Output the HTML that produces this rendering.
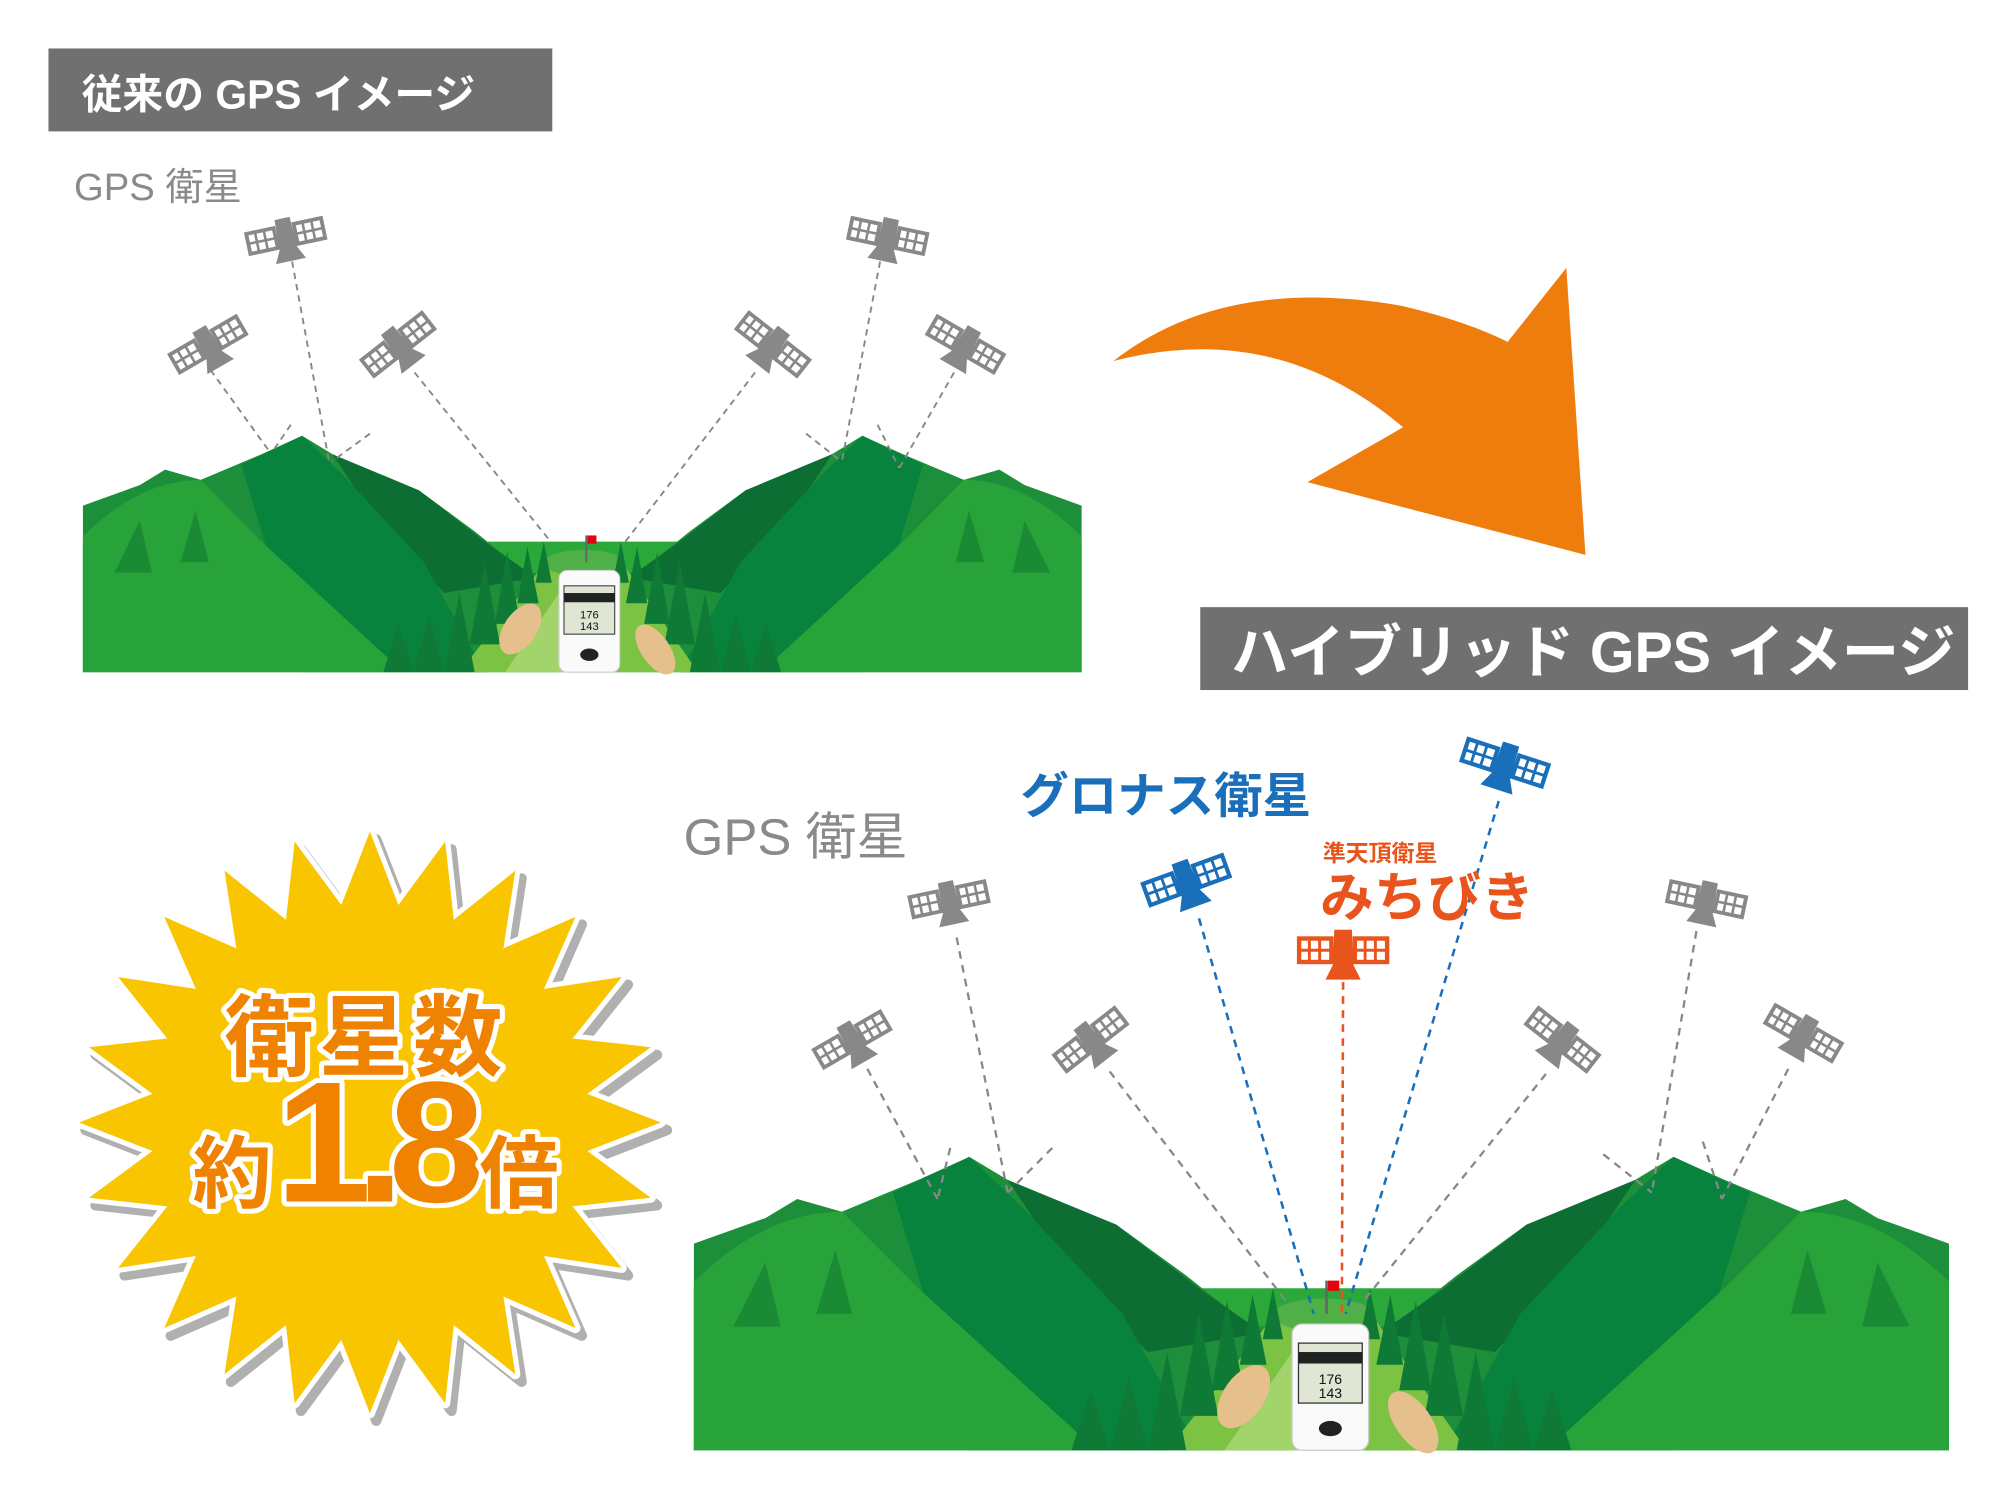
<!DOCTYPE html>
<html><head><meta charset="utf-8"><style>
html,body{margin:0;padding:0;background:#fff;}
svg{display:block;}
text{font-family:"Liberation Sans","Noto Sans CJK JP",sans-serif;}
</style></head><body>
<svg width="2000" height="1500" viewBox="0 0 1568 1176" preserveAspectRatio="none" xmlns="http://www.w3.org/2000/svg">
<defs>
<g id="sat">
  <rect x="-30" y="-8" width="22" height="16" fill="#fff" stroke="currentColor" stroke-width="3"/>
  <line x1="-23" y1="-8" x2="-23" y2="8" stroke="currentColor" stroke-width="2"/>
  <line x1="-16" y1="-8" x2="-16" y2="8" stroke="currentColor" stroke-width="2"/>
  <line x1="-30" y1="0" x2="-8" y2="0" stroke="currentColor" stroke-width="2"/>
  <rect x="8" y="-8" width="22" height="16" fill="#fff" stroke="currentColor" stroke-width="3"/>
  <line x1="15" y1="-8" x2="15" y2="8" stroke="currentColor" stroke-width="2"/>
  <line x1="22" y1="-8" x2="22" y2="8" stroke="currentColor" stroke-width="2"/>
  <line x1="8" y1="0" x2="30" y2="0" stroke="currentColor" stroke-width="2"/>
  <line x1="-8" y1="0" x2="8" y2="0" stroke="currentColor" stroke-width="3"/>
  <path d="M-6,-14 L6,-14 L7,10 L12,20 L-12,20 L-7,10 Z" fill="currentColor"/>
</g>
<g id="land">
  <rect x="544" y="1010" width="984" height="127" fill="#2aa83a"/>
  <path d="M544,975 L600,955 L625,940 L660,950 L720,925 L760,907 L790,925 L830,945 L875,960 L930,1000 L980,1040 L1010,1040 L1010,1137 L544,1137 Z" fill="#1d8f3a"/>
  <path d="M790,925 L875,960 L940,1010 L990,1045 L900,1060 L840,1000 Z" fill="#0d6e33"/>
  <path d="M700,935 L760,907 L800,945 L880,1030 L940,1137 L760,1137 L720,1000 Z" fill="#07833e"/>
  <path d="M544,1005 Q600,950 660,950 L720,1010 L830,1110 L860,1137 L544,1137 Z" fill="#27a33a"/>
  <path d="M575,1040 L600,990 L612,1040 Z M640,1030 L655,980 L668,1030 Z" fill="#1a8a35"/>
  <path d="M1528,975 L1472,955 L1447,940 L1412,950 L1352,925 L1312,907 L1282,925 L1242,945 L1197,960 L1142,1000 L1092,1040 L1062,1040 L1062,1137 L1528,1137 Z" fill="#1d8f3a"/>
  <path d="M1282,925 L1197,960 L1132,1010 L1082,1045 L1172,1060 L1232,1000 Z" fill="#0d6e33"/>
  <path d="M1372,935 L1312,907 L1272,945 L1192,1030 L1132,1137 L1312,1137 L1352,1000 Z" fill="#07833e"/>
  <path d="M1528,1005 Q1472,950 1412,950 L1352,1010 L1242,1110 L1212,1137 L1528,1137 Z" fill="#27a33a"/>
  <path d="M1497,1040 L1472,990 L1460,1040 Z M1432,1030 L1417,980 L1404,1030 Z" fill="#1a8a35"/>
  <path d="M1000,1030 L1075,1030 L1150,1137 L915,1137 Z" fill="#7cc243"/>
  <path d="M1020,1050 L1060,1050 L1070,1137 L960,1137 Z" fill="#a3d36b"/>
  <ellipse cx="1038" cy="1031" rx="40" ry="13" fill="#4fb048"/>
  <path d="M900,1137 L915,1060 L930,1137 Z M925,1110 L940,1030 L955,1110 Z M950,1090 L962,1020 L975,1090 Z M972,1070 L982,1015 L993,1070 Z M990,1050 L998,1010 L1006,1050 Z M870,1137 L885,1080 L900,1137 Z M840,1137 L855,1090 L870,1137 Z" fill="#0f7a36"/>
  <path d="M1172,1137 L1157,1060 L1142,1137 Z M1147,1110 L1132,1030 L1117,1110 Z M1122,1090 L1110,1020 L1097,1090 Z M1100,1070 L1090,1015 L1079,1070 Z M1082,1050 L1074,1010 L1066,1050 Z M1202,1137 L1187,1080 L1172,1137 Z M1232,1137 L1217,1090 L1202,1137 Z" fill="#0f7a36"/>
  <ellipse cx="975" cy="1095" rx="16" ry="28" transform="rotate(35 975 1095)" fill="#e6c08c"/>
  <ellipse cx="1108" cy="1115" rx="14" ry="28" transform="rotate(-35 1108 1115)" fill="#e6c08c"/>
  <line x1="1040" y1="1004" x2="1040" y2="1030" stroke="#666" stroke-width="2"/>
  <rect x="1041" y="1004" width="9" height="8" fill="#e60012"/>
  <rect x="1013" y="1038" width="60" height="99" rx="8" fill="#fafafa" stroke="#ccc" stroke-width="1"/>
  <rect x="1018" y="1053" width="50" height="47" fill="#dfe6d4" stroke="#333" stroke-width="1"/>
  <rect x="1018" y="1060" width="50" height="9" fill="#222"/>
  <text x="1043" y="1085" font-size="11" text-anchor="middle" fill="#111">176</text>
  <text x="1043" y="1096" font-size="11" text-anchor="middle" fill="#111">143</text>
  <ellipse cx="1043" cy="1120" rx="9" ry="6" fill="#222"/>
</g>
<polygon id="burstPts" points="290,652 312.4,709.5 349,659.8 355.8,721.1 404,682.6 394.7,743.5 451.2,718.8 426.5,775.3 487.4,766 448.9,814.2 510.2,821 460.5,857.6 518,880 460.5,902.4 510.2,939 448.9,945.8 487.4,994 426.5,984.7 451.2,1041.2 394.7,1016.5 404,1077.4 355.8,1038.9 349,1100.2 312.4,1050.5 290,1108 267.6,1050.5 231,1100.2 224.2,1038.9 176,1077.4 185.3,1016.5 128.8,1041.2 153.5,984.7 92.6,994 131.1,945.8 69.8,939 119.5,902.4 62,880 119.5,857.6 69.8,821 131.1,814.2 92.6,766 153.5,775.3 128.8,718.8 185.3,743.5 176,682.6 224.2,721.1 231,659.8 267.6,709.5"/>
</defs>

<rect x="38" y="38" width="395" height="65" fill="#717071"/>
<text x="64" y="85" font-size="32" font-weight="bold" fill="#fff">従来の GPS イメージ</text>
<text x="58" y="157" font-size="30" fill="#8a8a8a">GPS 衛星</text>

<rect x="941" y="476" width="602" height="65" fill="#717071"/>
<text x="965" y="527" font-size="45" font-weight="bold" fill="#fff">ハイブリッド GPS イメージ</text>

<path d="M873,283 Q960,215 1100,240 Q1150,252 1182,268 L1228,210 L1243,435 L1025,378 L1100,335 Q1000,250 873,283 Z" fill="#ef7d0e"/>

<use href="#land" transform="translate(65,340) scale(0.7957,0.806) translate(-544,-905)"/>
<g stroke="#888" stroke-width="1.5" stroke-dasharray="5,4" fill="none">
  <line x1="165" y1="290" x2="212" y2="355"/>
  <line x1="229" y1="205" x2="258" y2="362"/>
  <line x1="325" y1="292" x2="432" y2="425"/>
  <line x1="592" y1="292" x2="490" y2="425"/>
  <line x1="690" y1="205" x2="660" y2="362"/>
  <line x1="748" y1="292" x2="705" y2="367"/>
  <line x1="228" y1="333" x2="213" y2="355"/>
  <line x1="290" y1="340" x2="260" y2="362"/>
  <line x1="632" y1="340" x2="660" y2="362"/>
  <line x1="688" y1="333" x2="705" y2="367"/>
</g>
<g color="#888">
  <use href="#sat" transform="translate(224,185) rotate(-12)"/>
  <use href="#sat" transform="translate(163,270) rotate(-30)"/>
  <use href="#sat" transform="translate(312,270) rotate(-38)"/>
  <use href="#sat" transform="translate(606,270) rotate(38)"/>
  <use href="#sat" transform="translate(696,185) rotate(12)"/>
  <use href="#sat" transform="translate(757,270) rotate(30)"/>
</g>

<use href="#land"/>
<g stroke="#888" stroke-width="1.8" stroke-dasharray="6,5" fill="none">
  <line x1="750" y1="735" x2="790" y2="935"/>
  <line x1="680" y1="838" x2="735" y2="940"/>
  <line x1="870" y1="840" x2="1012" y2="1025"/>
  <line x1="1212" y1="842" x2="1065" y2="1025"/>
  <line x1="1330" y1="730" x2="1295" y2="935"/>
  <line x1="1402" y1="838" x2="1350" y2="940"/>
  <line x1="745" y1="900" x2="735" y2="940"/>
  <line x1="825" y1="900" x2="790" y2="935"/>
  <line x1="1257" y1="905" x2="1295" y2="935"/>
  <line x1="1335" y1="895" x2="1350" y2="940"/>
</g>
<g stroke="#1a6fba" stroke-width="2" stroke-dasharray="6,5" fill="none">
  <line x1="940" y1="720" x2="1030" y2="1030"/>
  <line x1="1175" y1="628" x2="1055" y2="1030"/>
</g>
<line x1="1053" y1="770" x2="1052" y2="1030" stroke="#e8541c" stroke-width="2" stroke-dasharray="6,5"/>
<g color="#888">
  <use href="#sat" transform="translate(744,705) rotate(-12)"/>
  <use href="#sat" transform="translate(668,815) rotate(-30)"/>
  <use href="#sat" transform="translate(855,815) rotate(-38)"/>
  <use href="#sat" transform="translate(1225,815) rotate(38)"/>
  <use href="#sat" transform="translate(1338,705) rotate(12)"/>
  <use href="#sat" transform="translate(1414,810) rotate(30)"/>
</g>
<g color="#1a6fba">
  <use href="#sat" transform="translate(930,690) scale(1.1) rotate(-20)"/>
  <use href="#sat" transform="translate(1180,598) scale(1.1) rotate(18)"/>
</g>
<g color="#e8541c"><use href="#sat" transform="translate(1053,745) scale(1.15)"/></g>

<text x="536" y="670" font-size="40" fill="#8a8a8a">GPS 衛星</text>
<text x="800" y="637" font-size="38" font-weight="bold" fill="#1a6fba">グロナス衛星</text>
<text x="1037" y="675" font-size="18" font-weight="bold" fill="#e8541c">準天頂衛星</text>
<text x="1035" y="718" font-size="42" font-weight="bold" fill="#e8541c">みちびき</text>

<!-- starburst -->
<use href="#burstPts" transform="translate(5,6)" fill="#b0b0b0" stroke="#b0b0b0" stroke-width="8" stroke-linejoin="round"/>
<use href="#burstPts" fill="#fff" stroke="#fff" stroke-width="8" stroke-linejoin="round"/>
<use href="#burstPts" fill="#f8c500"/>
<g font-weight="bold" text-anchor="middle" fill="#ef8200" stroke="#fff" stroke-width="8" paint-order="stroke" stroke-linejoin="round">
  <text x="287" y="838" font-size="70" letter-spacing="4">衛星数</text>
  <text x="182" y="942" font-size="62">約</text>
  <text x="292" y="942" font-size="135" letter-spacing="-12">1.8</text>
  <text x="407" y="942" font-size="62">倍</text>
</g>
</svg>
</body></html>
